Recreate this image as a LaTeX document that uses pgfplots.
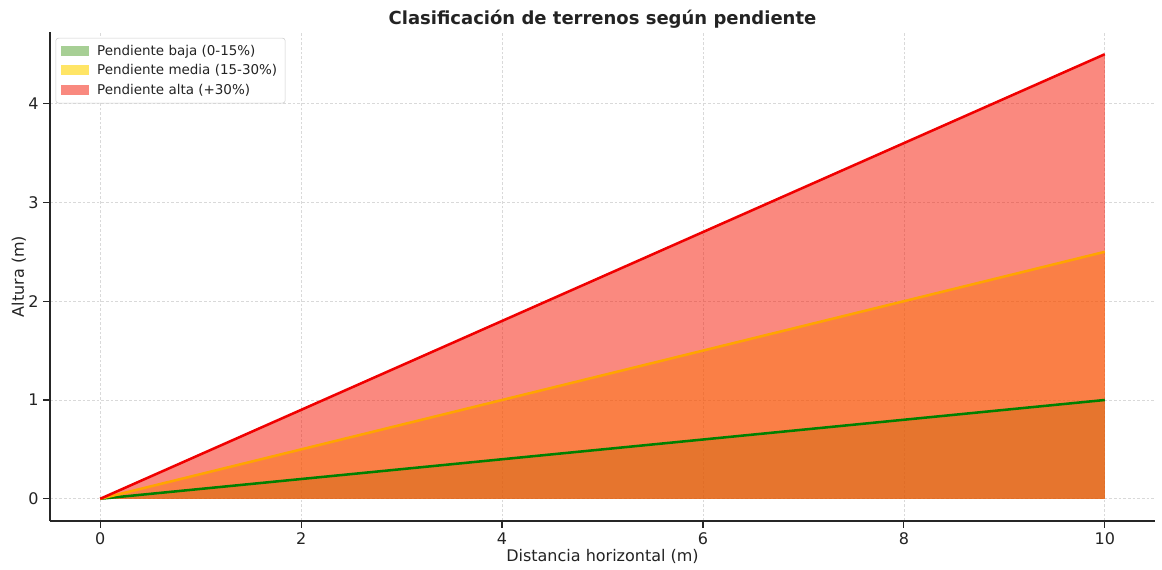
\documentclass[border=0pt]{standalone}
\usepackage{pgfplots}
\pgfplotsset{compat=1.18}
\usepackage{fontspec}
\setmainfont{DejaVu Sans}
\definecolor{fgreen}{RGB}{60,150,20}
\definecolor{fgold}{RGB}{255,212,0}
\definecolor{fred}{RGB}{245,20,0}
\definecolor{lgreen}{RGB}{0,128,0}
\definecolor{lorange}{RGB}{255,165,0}
\definecolor{lred}{RGB}{240,0,0}
\definecolor{txt}{RGB}{35,35,35}
\pgfplotsset{patchlegend/.style={legend image code/.code={\fill[##1, draw=none, sharp corners] (1.5pt,-3.6pt) rectangle (22.5pt,3.9pt);}}}
\begin{document}
\begin{tikzpicture}
\begin{axis}[
  scale only axis,
  width=828.75pt, height=366.75pt,
  xmin=-0.5, xmax=10.5, ymin=-0.225, ymax=4.725,
  xtick={0,2,4,6,8,10}, ytick={0,1,2,3,4},
  axis x line*=bottom, axis y line*=left,
  axis line style={line width=1.1pt, color=black!85},
  tick style={line width=0.9pt, color=black!85},
  tick align=outside, major tick length=5pt,
  grid=major, grid style={dash pattern=on 2pt off 1.5pt, line width=0.45pt, color=black!15},
  /pgf/number format/assume math mode=true,
  ticklabel style={font=\fontsize{12}{14}\selectfont, text=txt},
  xlabel={Distancia horizontal (m)}, ylabel={Altura (m)},
  label style={font=\fontsize{12}{14}\selectfont, text=txt},
  xlabel style={yshift=3pt},
  ylabel style={yshift=-5pt},
  title={\textbf{Clasificación de terrenos según pendiente}},
  title style={font=\fontsize{13.5}{16}\selectfont, text=txt, yshift=-7pt},
  legend style={at={(0.005,0.988)}, anchor=north west, font=\fontsize{10.1}{12}\selectfont, text=txt, draw=black!20, rounded corners=2pt, inner xsep=4pt, inner ysep=3pt, row sep=1.6pt},
  legend cell align=left,
]
\addplot[draw=none, fill=fgreen, fill opacity=0.35, forget plot] coordinates {(0,0) (10,1)} \closedcycle;
\addplot[draw=none, fill=fgold, fill opacity=0.45, forget plot] coordinates {(0,0) (10,2.5)} \closedcycle;
\addplot[draw=none, fill=fred, fill opacity=0.5, forget plot] coordinates {(0,0) (10,4.5)} \closedcycle;
\addplot[lgreen, line width=1.9pt, forget plot] coordinates {(0,0) (10,1)};
\addplot[lorange, line width=1.9pt, forget plot] coordinates {(0,0) (10,2.5)};
\addplot[lred, line width=1.9pt, forget plot] coordinates {(0,0) (10,4.5)};
\addlegendimage{patchlegend, fill=fgreen, fill opacity=0.45}
\addlegendentry{\hspace{4pt}Pendiente baja (0-15\%)}
\addlegendimage{patchlegend, fill=fgold, fill opacity=0.6}
\addlegendentry{\hspace{4pt}Pendiente media (15-30\%)}
\addlegendimage{patchlegend, fill=fred, fill opacity=0.5}
\addlegendentry{\hspace{4pt}Pendiente alta (+30\%)}
\end{axis}
\pgfresetboundingbox
\path (-37.5pt,-36pt) rectangle (834pt,390.75pt);
\end{tikzpicture}
\end{document}
